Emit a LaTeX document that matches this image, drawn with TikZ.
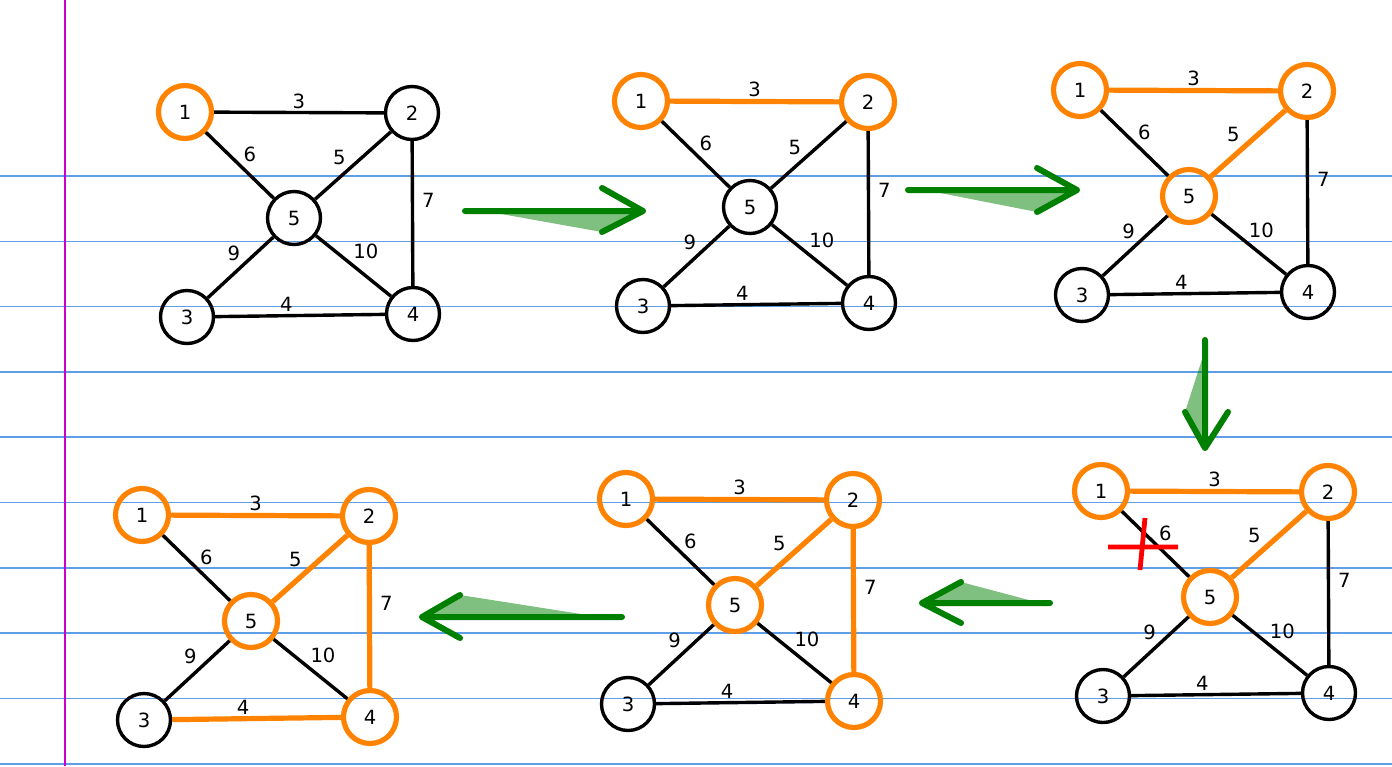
\documentclass[tikz,border=0pt]{standalone}
\usepackage{fontspec}
\setmainfont{DejaVu Sans}
\usepackage{tikz}

\definecolor{netorange}{RGB}{255,131,0}
\definecolor{flowgreen}{RGB}{0,128,0}
\definecolor{rulecolor}{RGB}{94,158,230}
\definecolor{margincolor}{RGB}{204,0,204}

\tikzset{
  n1/.style={}, n2/.style={}, n3/.style={}, n4/.style={}, n5/.style={},
  e12/.style={}, e15/.style={}, e25/.style={}, e24/.style={},
  e53/.style={}, e54/.style={}, e34/.style={}}

\newcommand{\netgraph}{%
  \node[vtx, n1] (1) at (0,0) {1};
  \node[vtx, n2] (2) at (227,1) {2};
  \node[vtx, n5] (5) at (109,106) {5};
  \node[vtx, n3] (3) at (2,205) {3};
  \node[vtx, n4] (4) at (228,202) {4};
  \draw[edge, e12] (1) -- node[wt, above] {3} (2);
  \draw[edge, e15] (1) -- node[wt, above right] {6} (5);
  \draw[edge, e25] (2) -- node[wt, pos=.55, above left] {5} (5);
  \draw[edge, e24] (2) -- node[wt, pos=.41, right=3pt] {7} (4);
  \draw[edge, e53] (5) -- node[wt, pos=.45, above left] {9} (3);
  \draw[edge, e54] (5) -- node[wt, pos=.45, above right] {10} (4);
  \draw[edge, e34] (3) -- node[wt, pos=.42, above] {4} (4);
}

\begin{document}
\begin{tikzpicture}[x=0.5pt, y=-0.5pt,
  vtx/.style={circle, draw, line width=1.7pt, minimum size=26.5pt, inner sep=0pt, font=\fontsize{9.8}{11}\selectfont},
  hot/.style={draw=netorange, line width=2.6pt},
  edge/.style={draw, line width=1.7pt},
  hotedge/.style={draw=netorange, line width=2.6pt},
  wt/.style={font=\fontsize{9.8}{11}\selectfont, inner sep=1pt},
  rule/.style={rulecolor, line width=0.8pt},
  flow/.style={draw=flowgreen, line width=3pt, line cap=round, line join=round},
  wedge/.style={fill=flowgreen, fill opacity=.5},
  cross/.style={red, line width=2.4pt}]
\fill[white] (0,0) rectangle (1392,766);
\useasboundingbox (0,0) rectangle (1392,766);
\foreach \k in {0,...,9}
  \draw[rule] (0,{176+65.3*\k}) -- (1392,{176+65.3*\k});
\draw[margincolor, line width=0.8pt] (65,0) -- (65,766);

\begin{scope}[shift={(185,112)}, name prefix=a-, n1/.style=hot]
  \netgraph
\end{scope}
\begin{scope}[shift={(641,101)}, name prefix=b-, n1/.style=hot, n2/.style=hot,
  e12/.style=hotedge]
  \netgraph
\end{scope}
\begin{scope}[shift={(1080,90)}, name prefix=c-, n1/.style=hot, n2/.style=hot,
  n5/.style=hot, e12/.style=hotedge, e25/.style=hotedge]
  \netgraph
\end{scope}
\begin{scope}[shift={(1101,491)}, name prefix=d-, n1/.style=hot, n2/.style=hot,
  n5/.style=hot, e12/.style=hotedge, e25/.style=hotedge]
  \netgraph
\end{scope}
\begin{scope}[shift={(626,499)}, name prefix=e-, n1/.style=hot, n2/.style=hot,
  n5/.style=hot, n4/.style=hot, e12/.style=hotedge, e25/.style=hotedge,
  e24/.style=hotedge]
  \netgraph
\end{scope}
\begin{scope}[shift={(142,515)}, name prefix=f-, n1/.style=hot, n2/.style=hot,
  n5/.style=hot, n4/.style=hot, e12/.style=hotedge, e25/.style=hotedge,
  e24/.style=hotedge, e34/.style=hotedge]
  \netgraph
\end{scope}

\draw[cross] (1108,547) -- (1178,547) (1145,518) -- (1140,570);

\fill[wedge] (490,212) -- (643,211) -- (602,232) -- cycle;
\draw[flow] (465,211) -- (643,211) (602,188) -- (643,211) -- (602,232);
\fill[wedge] (930,191) -- (1077,190) -- (1037,212) -- cycle;
\draw[flow] (908,190) -- (1077,190) (1037,168) -- (1077,190) -- (1037,212);
\fill[wedge] (1205,350) -- (1205,448) -- (1185,412) -- cycle;
\draw[flow] (1205,340) -- (1205,448) (1185,412) -- (1205,448) -- (1228,412);
\fill[wedge] (1040,603) -- (922,603) -- (961,582) -- cycle;
\draw[flow] (1050,603) -- (922,603) (961,582) -- (922,603) -- (961,623);
\fill[wedge] (600,617) -- (422,617) -- (460,595) -- cycle;
\draw[flow] (622,617) -- (422,617) (460,595) -- (422,617) -- (460,638);
\end{tikzpicture}
\end{document}
